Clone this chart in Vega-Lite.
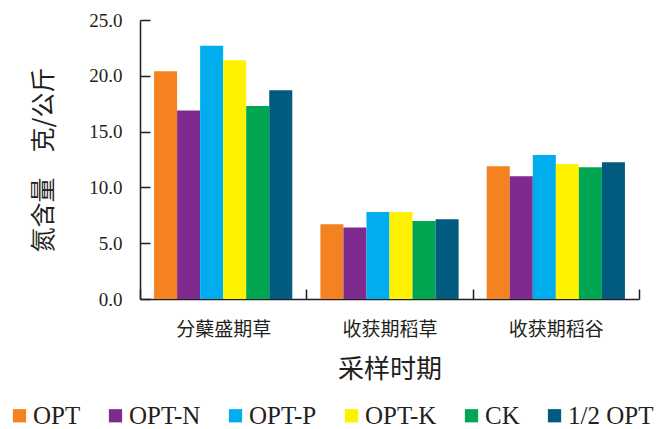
{
  "$schema": "https://vega.github.io/schema/vega-lite/v6.json",
  "width": 499,
  "height": 279,
  "autosize": "none",
  "padding": {"left": 140, "top": 20, "right": 23, "bottom": 130},
  "background": "white",
  "data": {
    "values": [
      {"stage": "分蘖盛期草", "trt": "OPT", "n": 20.4},
      {"stage": "分蘖盛期草", "trt": "OPT-N", "n": 16.9},
      {"stage": "分蘖盛期草", "trt": "OPT-P", "n": 22.7},
      {"stage": "分蘖盛期草", "trt": "OPT-K", "n": 21.4},
      {"stage": "分蘖盛期草", "trt": "CK", "n": 17.3},
      {"stage": "分蘖盛期草", "trt": "1/2 OPT", "n": 18.7},
      {"stage": "收获期稻草", "trt": "OPT", "n": 6.7},
      {"stage": "收获期稻草", "trt": "OPT-N", "n": 6.4},
      {"stage": "收获期稻草", "trt": "OPT-P", "n": 7.8},
      {"stage": "收获期稻草", "trt": "OPT-K", "n": 7.8},
      {"stage": "收获期稻草", "trt": "CK", "n": 7.0},
      {"stage": "收获期稻草", "trt": "1/2 OPT", "n": 7.15},
      {"stage": "收获期稻谷", "trt": "OPT", "n": 11.9},
      {"stage": "收获期稻谷", "trt": "OPT-N", "n": 11.0},
      {"stage": "收获期稻谷", "trt": "OPT-P", "n": 12.9},
      {"stage": "收获期稻谷", "trt": "OPT-K", "n": 12.1},
      {"stage": "收获期稻谷", "trt": "CK", "n": 11.8},
      {"stage": "收获期稻谷", "trt": "1/2 OPT", "n": 12.25}
    ]
  },
  "mark": {"type": "bar"},
  "encoding": {
    "x": {
      "field": "stage",
      "type": "nominal",
      "sort": null,
      "scale": {"paddingInner": 0, "paddingOuter": 0},
      "axis": {
        "title": "采样时期",
        "titleFont": "Noto Sans CJK SC",
        "titleFontSize": 26,
        "titleFontWeight": "normal",
        "titleColor": "#231F20",
        "titlePadding": 17,
        "labelFont": "Noto Sans CJK SC",
        "labelFontSize": 19,
        "labelColor": "#231F20",
        "labelAngle": 0,
        "tickBand": "extent",
        "labelPadding": 31,
        "tickSize": -10,
        "tickColor": "#231F20",
        "tickWidth": 1.5,
        "domainColor": "#231F20",
        "domainWidth": 1.5,
        "grid": false
      }
    },
    "xOffset": {
      "field": "trt",
      "type": "nominal",
      "sort": ["OPT", "OPT-N", "OPT-P", "OPT-K", "CK", "1/2 OPT"],
      "scale": {"paddingInner": 0, "paddingOuter": 0.61}
    },
    "y": {
      "field": "n",
      "type": "quantitative",
      "scale": {"domain": [0, 25], "nice": false},
      "axis": {
        "title": "氮含量　克/公斤",
        "titleFont": "Noto Sans CJK SC",
        "titleFontSize": 25,
        "titleFontWeight": "normal",
        "titleColor": "#231F20",
        "titlePadding": 32,
        "values": [0, 5, 10, 15, 20, 25],
        "format": ".1f",
        "labelFont": "Liberation Serif",
        "labelFontSize": 19,
        "labelColor": "#231F20",
        "labelPadding": 28,
        "tickSize": -10,
        "tickColor": "#231F20",
        "tickWidth": 1.5,
        "domainColor": "#231F20",
        "domainWidth": 1.5,
        "grid": false
      }
    },
    "color": {
      "field": "trt",
      "type": "nominal",
      "sort": ["OPT", "OPT-N", "OPT-P", "OPT-K", "CK", "1/2 OPT"],
      "scale": {
        "domain": ["OPT", "OPT-N", "OPT-P", "OPT-K", "CK", "1/2 OPT"],
        "range": ["#F58220", "#7F2A8F", "#00AEEF", "#FFF200", "#00A651", "#005B7F"]
      },
      "legend": {
        "title": null,
        "orient": "none",
        "direction": "horizontal",
        "legendX": -133,
        "legendY": 383,
        "symbolType": "square",
        "symbolSize": 175,
        "symbolStrokeWidth": 0,
        "labelFont": "Liberation Serif",
        "labelFontSize": 25,
        "labelColor": "#231F20",
        "labelOffset": 1,
        "columnPadding": 22,
        "labelLimit": 200
      }
    }
  },
  "config": {"view": {"stroke": null}}
}
